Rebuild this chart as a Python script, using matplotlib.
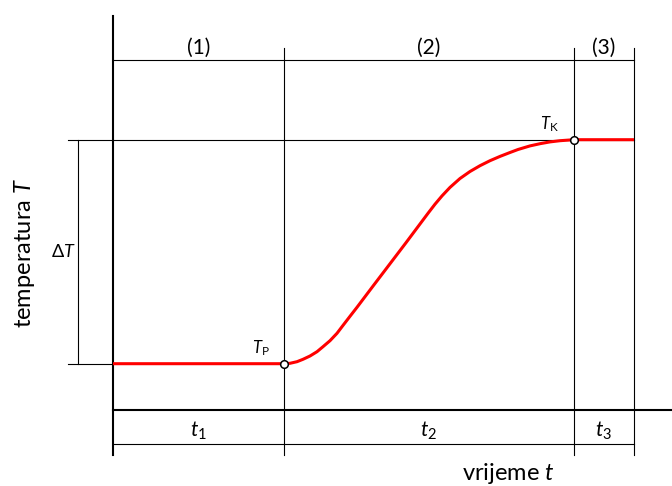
import matplotlib
matplotlib.use('Agg')
import matplotlib.pyplot as plt

# phase boundaries on the time axis (start, end of (1), end of (2), end of (3))
phase_edges = [0, 171, 461, 521]
phase_names = ['(1)', '(2)', '(3)']
time_names = [r'$t_1$', r'$t_2$', r'$t_3$']

# start / end temperature
T_P = 46
T_K = 270

# heating curve
curve_t = [0, 171, 177, 184, 190, 197, 204, 210, 217, 224, 230, 237, 244,
           260, 293, 315, 322, 329, 337, 347, 357, 367, 377, 387, 397, 405,
           417, 427, 437, 447, 461, 521]
curve_T = [46, 46, 46.4, 48, 50.4, 53.7, 58, 63, 69, 76.4, 84.3, 93.4, 102.4,
           123.6, 167, 196.4, 205.5, 213.8, 222.3, 231.2, 238.2, 244, 249,
           253.3, 257.2, 260.2, 263.8, 266, 267.8, 269, 270, 270]

plt.rcParams['font.family'] = ['Lato', 'DejaVu Sans']
plt.rcParams['mathtext.fontset'] = 'custom'
plt.rcParams['mathtext.rm'] = 'Lato'
plt.rcParams['mathtext.it'] = 'Lato:italic'


def main():
    fig = plt.figure(figsize=(6.72, 4.86), dpi=100)
    ax = fig.add_axes([0, 0, 1, 1])
    ax.set_xlim(-113, 559)
    ax.set_ylim(-76.3, 409.7)
    ax.axis('off')

    thin = dict(color='black', lw=0.8)
    thick = dict(color='black', lw=1.5)
    top_y, bot_y = 350, -34
    left = -45

    # axes
    ax.plot([0, 0], [-45, 394], **thick)
    ax.plot([0, 559], [0, 0], **thick)

    # phase separators and dimension lines
    for x in phase_edges[1:]:
        ax.plot([x, x], [-45, 362], **thin)
    ax.plot([phase_edges[0], phase_edges[-1]], [top_y, top_y], **thin)
    ax.plot([phase_edges[0], phase_edges[-1]], [bot_y, bot_y], **thin)
    ax.plot([left, phase_edges[-1]], [T_K, T_K], **thin)
    ax.plot([left, 0], [T_P, T_P], **thin)
    ax.plot([-35, -35], [T_P, T_K], **thin)

    for i in range(3):
        xm = (phase_edges[i] + phase_edges[i + 1]) / 2
        ax.text(xm, top_y + 2, phase_names[i], ha='center', va='bottom',
                fontsize=15)
        ax.text(xm, bot_y + 13, time_names[i], ha='center', va='center',
                fontsize=15)

    # heating curve
    ax.plot(curve_t, curve_T, color='#ff0000', lw=2.2, solid_capstyle='butt',
            solid_joinstyle='round', zorder=3)
    ax.plot([phase_edges[1], phase_edges[2]], [T_P, T_K], 'o', ms=5.5,
            mfc='white', mec='black', mew=1.1, zorder=4)

    ax.text(phase_edges[1] - 23, T_P + 16, r'$T_{\mathrm{P}}$', ha='center',
            va='center', fontsize=12)
    ax.text(phase_edges[2] - 25, T_K + 16, r'$T_{\mathrm{K}}$', ha='center',
            va='center', fontsize=12)
    ax.text(-50, (T_P + T_K) / 2, r'$\Delta T$', ha='center', va='center',
            fontsize=13)

    ax.text(-88, 157, r'temperatura $T$', rotation=90, ha='center',
            va='center', fontsize=17)
    ax.text(395, -64, r'vrijeme $t$', ha='center', va='center', fontsize=17)

    fig.savefig('out.png', dpi=100)


if __name__ == '__main__':
    main()
